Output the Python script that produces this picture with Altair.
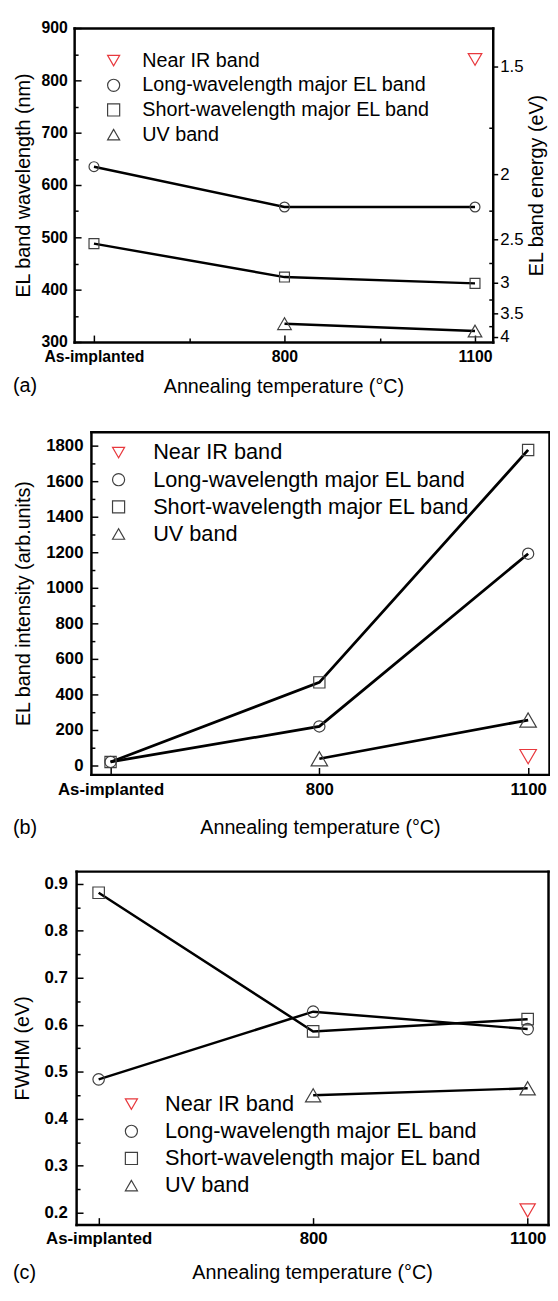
import json
import altair as alt
import pandas as pd

# ---------------- data ----------------
temps = ["As-implanted", "800", "1100"]
series = ["Near IR band", "Long-wavelength major EL band",
          "Short-wavelength major EL band", "UV band"]
shapes = ["triangle-down", "circle", "square", "triangle-up"]
colors = ["#e8383d", "#404040", "#404040", "#404040"]
panel_labels = ["(a)", "(b)", "(c)"]
x_title = "Annealing temperature (°C)"

# (a) EL band wavelength (nm)
a_near_ir = [None, None, 840]
a_long = [635, 558, 558]
a_short = [488, 424, 412]
a_uv = [None, 335, 321]
energy_ticks = [1.5, 2, 2.5, 3, 3.5, 4]
energy_minor = [1.75, 2.25, 2.75, 3.25, 3.75]

# (b) EL band intensity (arb.units)
b_near_ir = [None, None, 50]
b_long = [20, 220, 1192]
b_short = [20, 468, 1776]
b_uv = [None, 38, 256]

# (c) FWHM (eV)
c_near_ir = [None, None, 0.205]
c_long = [0.484, 0.628, 0.591]
c_short = [0.881, 0.586, 0.612]
c_uv = [None, 0.450, 0.465]

FONT = "Liberation Sans"
TRIANGLES = [series[0], series[3]]
BOXES = [series[1], series[2]]
W, H = 549, 1284          # whole drawing, one canvas
FW = 2.5                  # frame line width


def frame(cols):
    rows = []
    for s, vals in zip(series, cols):
        for i, v in enumerate(vals):
            if v is not None:
                rows.append({"series": s, "xi": i, "v": v})
    return pd.DataFrame(rows)


def edge_offset(orient, pos):
    """offset that puts an axis of this orient at canvas coordinate pos"""
    if orient == "left":
        return -pos
    if orient == "right":
        return pos - W
    if orient == "top":
        return -pos
    return pos - H


def tick_axis(orient, pos, values, size):
    inward = {"left": pos + size, "right": pos - size,
              "top": pos + size, "bottom": pos - size}[orient]
    return alt.Axis(orient=orient, offset=edge_offset(orient, inward), values=values,
                    labels=False, domain=False, grid=False, ticks=True, tickSize=size,
                    tickColor="black", tickWidth=1.5, title=None)


def frame_axis(orient, pos):
    return alt.Axis(orient=orient, offset=edge_offset(orient, pos), labels=False,
                    ticks=False, grid=False, domain=True, domainColor="black",
                    domainWidth=FW, domainCap="square", title=None)


def panel(df, sp):
    x0, x1, y0, y1 = sp["box"]          # left, right, top, bottom (canvas px)
    xs = alt.Scale(domain=sp["xdom"], range=[x0, x1], nice=False, zero=False)
    ys = alt.Scale(domain=sp["ydom"], range=[y1, y0], nice=False, zero=False)
    label_expr = json.dumps(temps) + "[datum.value]"
    common = dict(grid=False, domain=True, domainColor="black", domainWidth=FW,
                  domainCap="square", ticks=False, tickSize=0, labelFont=FONT,
                  labelColor="black", labelFontWeight="bold", labelFontSize=sp["lfs"],
                  labelFlush=False, labelOverlap=False, titleFont=FONT,
                  titleFontWeight="normal", titleColor="black", titleFontSize=20,
                  titleBaseline="middle", titleAlign="center")
    x_main = alt.Axis(orient="bottom", offset=edge_offset("bottom", y1),
                      values=[0, 1, 2], labelExpr=label_expr,
                      labelPadding=sp["xlp"], title=x_title,
                      titleX=sp["xtitle"][0], titleY=sp["xtitle"][1] - y1,
                      titleAngle=0, **common)
    y_main = alt.Axis(orient="left", offset=edge_offset("left", x0),
                      values=sp["yticks"], format=sp["yfmt"],
                      labelPadding=sp["ylp"], title=sp["ytitle"],
                      titleX=sp["ytitle_x"] - x0, titleY=(y0 + y1) / 2,
                      titleAngle=270, **common)
    leg = alt.Legend(orient="none", legendX=sp["leg"][0], legendY=sp["leg"][1],
                     title=None, labelFontSize=sp["legfs"], labelFont=FONT,
                     labelColor="black", symbolSize=150, symbolStrokeWidth=1.2,
                     rowPadding=sp["legrp"], labelOffset=sp["legoff"],
                     padding=0, labelLimit=0)
    shape_enc = alt.Shape("series:N", scale=alt.Scale(domain=series, range=shapes), legend=leg)
    color_enc = alt.Color("series:N", scale=alt.Scale(domain=series, range=colors), legend=leg)

    lines = alt.Chart(df).mark_line(color="black", strokeWidth=sp["lw"]).encode(
        x=alt.X("xi:Q", scale=xs, axis=x_main),
        y=alt.Y("v:Q", scale=ys, axis=y_main),
        detail="series:N",
    )
    boxes = alt.Chart(df).transform_filter(
        alt.FieldOneOfPredicate(field="series", oneOf=BOXES)
    ).mark_point(filled=False, strokeWidth=1.2, opacity=1, size=sp["bsize"]).encode(
        x=alt.X("xi:Q", scale=xs, axis=tick_axis("bottom", y1, [0, 1, 2], 7)),
        y=alt.Y("v:Q", scale=ys, axis=tick_axis("left", x0, sp["yticks"], 7)),
        shape=shape_enc, color=color_enc,
    )
    if sp.get("right"):
        right_axis = alt.Axis(
            orient="right", offset=edge_offset("right", x1),
            values=[1240 / e for e in energy_ticks],
            labelExpr="format(1240/datum.value, '.2~f')",
            ticks=True, tickSize=5, tickColor="black", tickWidth=1.5,
            domain=True, domainColor="black", domainWidth=FW, domainCap="square",
            grid=False, labelPadding=2, labelFontSize=17, labelFont=FONT,
            labelColor="black", labelFlush=False, labelOverlap=False,
            title="EL band energy (eV)", titleFontSize=20, titleFont=FONT,
            titleFontWeight="normal", titleColor="black", titleAngle=270,
            titleBaseline="middle", titleAlign="center",
            titleX=sp["rtitle_x"] - x1, titleY=(y0 + y1) / 2)
    else:
        right_axis = frame_axis("right", x1)
    tris = alt.Chart(df).transform_filter(
        alt.FieldOneOfPredicate(field="series", oneOf=TRIANGLES)
    ).mark_point(filled=False, strokeWidth=1.2, opacity=1, size=sp["tsize"]).encode(
        x=alt.X("xi:Q", scale=xs, axis=frame_axis("top", y0)),
        y=alt.Y("v:Q", scale=ys, axis=right_axis),
        shape=shape_enc, color=color_enc,
    )
    minor = alt.Chart(df).mark_point(opacity=0).encode(
        x=alt.X("xi:Q", scale=xs,
                axis=tick_axis("bottom", y1, sp["xminor"], 4) if sp["xminor"] else None),
        y=alt.Y("v:Q", scale=ys, axis=tick_axis("left", x0, sp["yminor"], 4)),
    )
    layers = [lines, boxes, tris, minor]
    if sp.get("right"):
        right_minor = alt.Chart(df).mark_point(opacity=0).encode(
            x=alt.X("xi:Q", scale=xs, axis=None),
            y=alt.Y("v:Q", scale=ys, axis=tick_axis(
                "right", x1, [1240 / e for e in energy_minor], 4)),
        )
        layers.append(right_minor)
    return alt.layer(*layers).resolve_axis(x="independent", y="independent")


def tag(text, pos):
    return alt.Chart(pd.DataFrame({"t": [text]})).mark_text(
        align="left", baseline="middle", fontSize=20, font=FONT, color="black"
    ).encode(text="t:N", x=alt.value(pos[0]), y=alt.value(pos[1]))


# canvas coordinates = page coordinates - 8 (page margin)
spec_a = dict(box=(67, 491, 12, 330), xdom=[-0.104, 2.093], ydom=[300, 900],
              yticks=[300, 400, 500, 600, 700, 800, 900], yfmt="d",
              yminor=[350, 450, 550, 650, 750, 850], xminor=[0.5, 1.5],
              ytitle="EL band wavelength (nm)", lfs=16, xlp=7, ylp=7,
              xtitle=(279, 375), ytitle_x=16, rtitle_x=535, right=True,
              leg=(97, 35), legfs=20, legrp=5, legoff=19,
              lw=2.5, bsize=100, tsize=190)

spec_b = dict(box=(84, 548, 421, 768), xdom=[-0.094, 2.1], ydom=[-50, 1878],
              yticks=list(range(0, 1801, 200)), yfmt="d",
              yminor=list(range(100, 1801, 200)), xminor=None,
              ytitle="EL band intensity (arb.units)", lfs=17, xlp=7, ylp=8,
              xtitle=(316, 822), ytitle_x=16,
              leg=(101, 431), legfs=22, legrp=5.5, legoff=24,
              lw=2.8, bsize=130, tsize=280)

spec_c = dict(box=(69, 547, 866, 1224), xdom=[-0.105, 2.095], ydom=[0.175, 0.927],
              yticks=[0.2, 0.3, 0.4, 0.5, 0.6, 0.7, 0.8, 0.9], yfmt=".1f",
              yminor=[0.25, 0.35, 0.45, 0.55, 0.65, 0.75, 0.85], xminor=None,
              ytitle="FWHM (eV)", lfs=17, xlp=6.5, ylp=9,
              xtitle=(308, 1273), ytitle_x=15,
              leg=(114, 1091), legfs=22, legrp=5.5, legoff=23,
              lw=2.5, bsize=135, tsize=240)

pa = panel(frame([a_near_ir, a_long, a_short, a_uv]), spec_a)
pb = panel(frame([b_near_ir, b_long, b_short, b_uv]), spec_b)
pc = panel(frame([c_near_ir, c_long, c_short, c_uv]), spec_c)

chart = alt.layer(
    pa, pb, pc,
    tag(panel_labels[0], (5, 375)),
    tag(panel_labels[1], (5, 822)),
    tag(panel_labels[2], (5, 1273)),
).resolve_scale(
    x="independent", y="independent", color="independent", shape="independent"
).resolve_axis(
    x="independent", y="independent"
).resolve_legend(
    color="independent", shape="independent"
).properties(
    width=W, height=H, padding=0, autosize=alt.AutoSizeParams(type="none")
).configure_view(stroke=None)

chart.save("out.html", embed_options={"renderer": "svg", "actions": False})
